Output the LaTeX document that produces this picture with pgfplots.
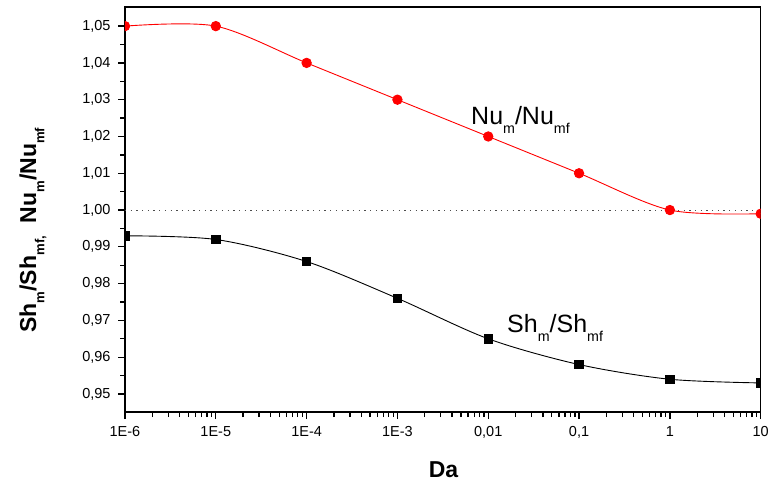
\documentclass[border=0pt]{standalone}
\usepackage{fontspec}
\setmainfont{Liberation Sans}
\usepackage{graphicx}
\usepackage{pgfplots}
\pgfplotsset{compat=1.18}
\newcommand\sub[1]{\raisebox{-0.36em}{\scalebox{0.57}{#1}}}
\begin{document}
\begin{tikzpicture}
\begin{axis}[
  scale only axis, width=635.7pt, height=405pt,
  at={(0pt,0pt)}, anchor=south west,
  xmode=log, xmin=1e-6, xmax=10, ymin=0.9451, ymax=1.0552,
  xtick={1e-6,1e-5,1e-4,1e-3,1e-2,1e-1,1,10},
  xticklabels={1E-6,1E-5,1E-4,1E-3,{0,01},{0,1},1,10},
  minor xtick={2e-6,3e-6,4e-6,5e-6,6e-6,7e-6,8e-6,9e-6,
               2e-5,3e-5,4e-5,5e-5,6e-5,7e-5,8e-5,9e-5,
               2e-4,3e-4,4e-4,5e-4,6e-4,7e-4,8e-4,9e-4,
               2e-3,3e-3,4e-3,5e-3,6e-3,7e-3,8e-3,9e-3,
               2e-2,3e-2,4e-2,5e-2,6e-2,7e-2,8e-2,9e-2,
               0.2,0.3,0.4,0.5,0.6,0.7,0.8,0.9,
               2,3,4,5,6,7,8,9},
  ytick={0.95,0.96,0.97,0.98,0.99,1.00,1.01,1.02,1.03,1.04,1.05},
  minor y tick num=1,
  tick align=outside, xtick pos=bottom, ytick pos=left,
  major tick length=7pt, minor tick length=5pt,
  axis line style={line width=1.5pt},
  tick style={black, line width=1.3pt},
  yticklabel style={xshift=-4pt, /pgf/number format/.cd, fixed, fixed zerofill, precision=2, use comma},
  /pgf/number format/assume math mode=true,
  ticklabel style={font=\fontsize{14.5}{17}\selectfont},
  xticklabel style={yshift=-4pt},
  xlabel={Da},
  ylabel={Sh\sub{m}/Sh\sub{mf,}~~Nu\sub{m}/Nu\sub{mf}},
  label style={font=\bfseries\fontsize{23}{28}\selectfont},
  xlabel style={at={(axis description cs:0.501,-0.1605)}, anchor=base},
  ylabel style={at={(axis description cs:-0.1447,0.449)}, anchor=center},
  clip marker paths=true,
]
\addplot[black!70, line width=1pt, dash pattern=on 1.3pt off 4.4pt, forget plot] coordinates {(1e-6,1) (10,1)};
\addplot[red, line width=0.9pt, smooth, mark=*, mark size=4.7pt, mark options={solid, fill=red, draw=red}] coordinates {
(1e-6,1.050) (1e-5,1.050) (1e-4,1.040) (1e-3,1.030) (1e-2,1.020) (1e-1,1.010) (1,1.000) (10,0.999)};
\addplot[black, line width=0.9pt, smooth, mark=square*, mark size=4.3pt, mark options={solid, fill=black}] coordinates {
(1e-6,0.993) (1e-5,0.992) (1e-4,0.986) (1e-3,0.976) (1e-2,0.965) (1e-1,0.958) (1,0.954) (10,0.953)};
\node[anchor=base west, font=\fontsize{25}{30}\selectfont, inner sep=0pt] at (axis cs:0.00646,1.0233) {Nu\sub{m}/Nu\sub{mf}};
\node[anchor=base west, font=\fontsize{25}{30}\selectfont, inner sep=0pt] at (axis cs:0.0161,0.9666) {Sh\sub{m}/Sh\sub{mf}};
\end{axis}
\pgfresetboundingbox
\path (-125pt,-69pt) rectangle (645pt,412pt);
\end{tikzpicture}
\end{document}
